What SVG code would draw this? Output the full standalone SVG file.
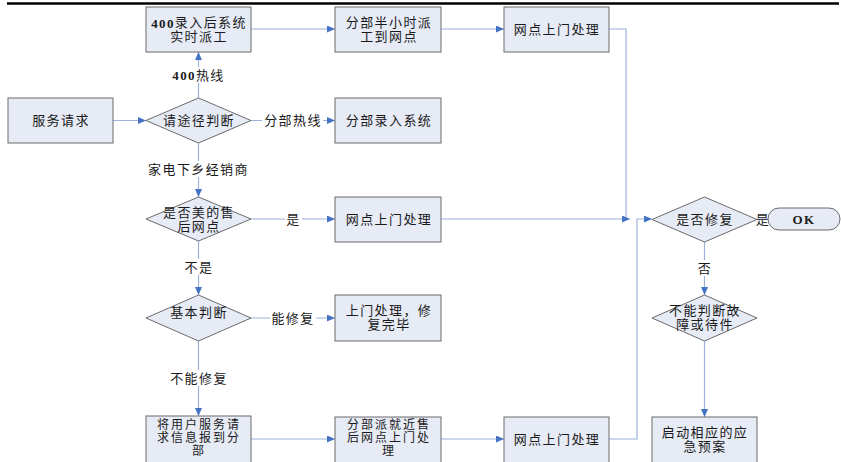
<svg xmlns="http://www.w3.org/2000/svg" width="841" height="462" viewBox="0 0 841 462">
<style>
.box{fill:#E6EBF6;stroke:#6B6B6B;stroke-width:1}
.t{font-family:"Liberation Serif","Noto Sans CJK SC",serif;font-size:13px;letter-spacing:1.4px;fill:#1a1a1a;text-anchor:middle;dominant-baseline:central}
.s{font-size:12px;letter-spacing:2px}
.c{fill:none;stroke:#9DB2DA;stroke-width:1.2}
.lb{fill:#fff}
</style>
<defs>
<marker id="ah" markerUnits="userSpaceOnUse" markerWidth="9" markerHeight="8" refX="8" refY="3.5" orient="auto">
<path d="M0,0 L8,3.5 L0,7 z" fill="#4472C4"/>
</marker>
</defs>
<rect width="841" height="462" fill="#fff"/>
<line x1="7" y1="3.5" x2="839" y2="3.5" stroke="#000" stroke-width="2.5"/>

<g id="connectors">
<path class="c" d="M113,120.5 H146" marker-end="url(#ah)"/>
<path class="c" d="M198.5,98 V52" marker-end="url(#ah)"/>
<path class="c" d="M251,120.5 H335" marker-end="url(#ah)"/>
<path class="c" d="M251,29 H335" marker-end="url(#ah)"/>
<path class="c" d="M441,29 H504" marker-end="url(#ah)"/>
<path class="c" d="M609,29 H626 V219"/>
<path class="c" d="M441,219 H630" marker-end="url(#ah)"/>
<path class="c" d="M609,439 H637 V219 H652" marker-end="url(#ah)"/>
<path class="c" d="M198.5,143 V197" marker-end="url(#ah)"/>
<path class="c" d="M251,219 H335" marker-end="url(#ah)"/>
<path class="c" d="M198.5,241 V295" marker-end="url(#ah)"/>
<path class="c" d="M251,318 H335" marker-end="url(#ah)"/>
<path class="c" d="M198.5,341 V416" marker-end="url(#ah)"/>
<path class="c" d="M251,439 H335" marker-end="url(#ah)"/>
<path class="c" d="M441,439 H504" marker-end="url(#ah)"/>
<path class="c" d="M757,219 H768"/>
<path class="c" d="M704.5,242 V295" marker-end="url(#ah)"/>
<path class="c" d="M704.5,341 V417" marker-end="url(#ah)"/>
<rect class="lb" x="170" y="67" width="57" height="16"/>
<text class="t" x="198.5" y="75"><tspan font-weight="bold">400</tspan>热线</text>
<rect class="lb" x="262" y="112" width="61" height="16"/>
<text class="t" x="293" y="120.5">分部热线</text>
<rect class="lb" x="146" y="161" width="105" height="16"/>
<text class="t" x="198.5" y="169">家电下乡经销商</text>
<rect class="lb" x="285" y="211" width="17" height="16"/>
<text class="t" x="293.5" y="219">是</text>
<rect class="lb" x="183" y="259" width="32" height="16"/>
<text class="t" x="199" y="267">不是</text>
<rect class="lb" x="270" y="310" width="46" height="16"/>
<text class="t" x="293" y="318">能修复</text>
<rect class="lb" x="168" y="370" width="61" height="16"/>
<text class="t" x="199" y="378">不能修复</text>
<text class="t" x="763" y="219">是</text>
<rect class="lb" x="696" y="260" width="17" height="16"/>
<text class="t" x="705" y="268">否</text>
</g>

<g id="n_fuwu"><rect class="box" x="8" y="98" width="105" height="45"/><text class="t" x="61" y="120.5">服务请求</text></g>
<g id="n_tujing"><polygon class="box" points="198.5,98 251,120.5 198.5,143 146,120.5"/><text class="t" x="199" y="120.5">请途径判断</text></g>
<g id="n_400"><rect class="box" x="146" y="7" width="105" height="45"/><text class="t" x="199" y="22.5"><tspan font-weight="bold">400</tspan>录入后系统</text><text class="t" x="199" y="36.5">实时派工</text></g>
<g id="n_banxiaoshi"><rect class="box" x="335" y="7" width="106" height="45"/><text class="t" x="389" y="22.5">分部半小时派</text><text class="t" x="389" y="36.5">工到网点</text></g>
<g id="n_wangdian1"><rect class="box" x="504" y="7" width="105" height="45"/><text class="t" x="557" y="29">网点上门处理</text></g>
<g id="n_fenbu"><rect class="box" x="335" y="98" width="106" height="45"/><text class="t" x="389" y="120.5">分部录入系统</text></g>
<g id="n_meidi"><polygon class="box" points="198.5,197 251,219 198.5,241 146,219"/><text class="t" x="199" y="212">是否美的售</text><text class="t" x="199" y="226">后网点</text></g>
<g id="n_wangdian2"><rect class="box" x="335" y="197" width="106" height="45"/><text class="t" x="389" y="219">网点上门处理</text></g>
<g id="n_jiben"><polygon class="box" points="198.5,295 251,318 198.5,341 146,318"/><text class="t" x="199" y="312">基本判断</text></g>
<g id="n_xiufu"><rect class="box" x="335" y="295" width="106" height="46"/><text class="t" x="389" y="310">上门处理，修</text><text class="t" x="389" y="324">复完毕</text></g>
<g id="n_baodao"><rect class="box" x="146" y="416" width="105" height="50"/><text class="t s" x="199" y="425">将用户服务请</text><text class="t s" x="199" y="438">求信息报到分</text><text class="t s" x="199" y="451">部</text></g>
<g id="n_jiujin"><rect class="box" x="335" y="417" width="106" height="50"/><text class="t s" x="389" y="425">分部派就近售</text><text class="t s" x="389" y="438">后网点上门处</text><text class="t s" x="389" y="451">理</text></g>
<g id="n_wangdian3"><rect class="box" x="504" y="417" width="105" height="50"/><text class="t" x="557" y="439">网点上门处理</text></g>
<g id="n_shifou"><polygon class="box" points="704.5,197 757,219.5 704.5,242 652,219.5"/><text class="t" x="705" y="219.5">是否修复</text></g>
<g id="n_ok"><rect class="box" x="768" y="208" width="72" height="22" rx="11" ry="11"/><text class="t" x="804" y="219" font-weight="bold">OK</text></g>
<g id="n_buneng"><polygon class="box" points="704.5,295 757,318 704.5,341 652,318"/><text class="t" x="705" y="310">不能判断故</text><text class="t" x="705" y="324">障或待件</text></g>
<g id="n_qidong"><rect class="box" x="652" y="417" width="105" height="50"/><text class="t" x="705" y="432">启动相应的应</text><text class="t" x="705" y="446">急预案</text></g>
</svg>
